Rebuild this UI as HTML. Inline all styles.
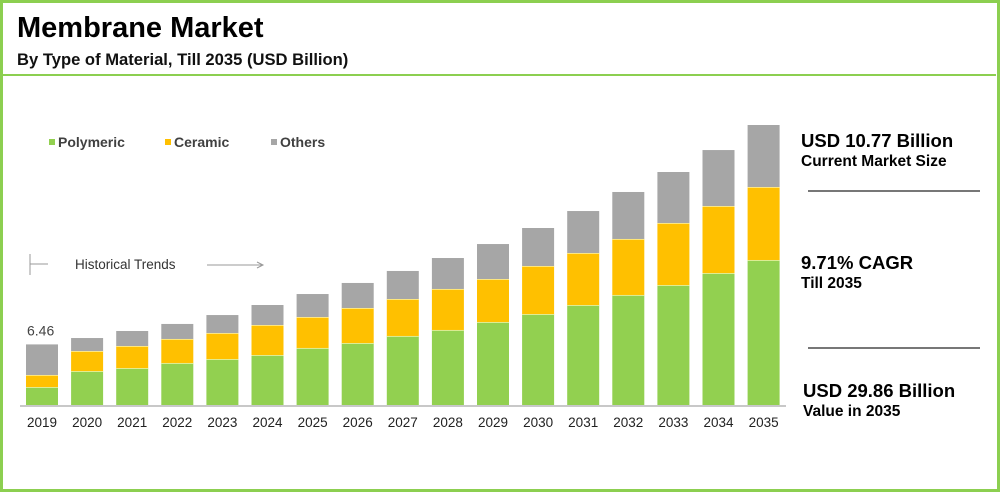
<!DOCTYPE html>
<html><head><meta charset="utf-8"><style>
body{margin:0;width:1000px;height:492px;overflow:hidden;background:#fff;font-family:"Liberation Sans",Arial,sans-serif;}
#frame{position:absolute;left:0;top:0;width:994px;height:486px;border:3px solid #8ccf50;border-right-width:4px;}
.t{position:absolute;white-space:nowrap;}
</style></head><body>
<div id="frame"></div>
<div class="t" style="left:17px;top:12px;font-size:29px;font-weight:bold;color:#000;">Membrane Market</div>
<div class="t" style="left:17px;top:50px;font-size:16.6px;font-weight:bold;color:#111;">By Type of Material, Till 2035 (USD Billion)</div>
<div style="position:absolute;left:3px;top:74px;width:993px;height:2px;background:#8ccf50;"></div>
<svg id="chart" width="1000" height="492" style="position:absolute;left:0;top:0">
</svg>
<div class="t" style="left:801px;top:130px;font-size:18.5px;font-weight:bold;">USD 10.77 Billion</div>
<div class="t" style="left:801px;top:153px;font-size:15.5px;font-weight:bold;">Current Market Size</div>
<div style="position:absolute;left:808px;top:190px;width:172px;height:2px;background:#777;"></div>
<div class="t" style="left:801px;top:252px;font-size:18.5px;font-weight:bold;">9.71% CAGR</div>
<div class="t" style="left:801px;top:275px;font-size:15.5px;font-weight:bold;">Till 2035</div>
<div style="position:absolute;left:808px;top:347px;width:172px;height:2px;background:#777;"></div>
<div class="t" style="left:803px;top:380px;font-size:18.5px;font-weight:bold;">USD 29.86 Billion</div>
<div class="t" style="left:803px;top:403px;font-size:15.5px;font-weight:bold;">Value in 2035</div>
<script>
const years=["2019","2020","2021","2022","2023","2024","2025","2026","2027","2028","2029","2030","2031","2032","2033","2034","2035"];
const polymeric=[1.92,3.62,3.94,4.48,4.90,5.33,6.08,6.61,7.36,8.00,8.85,9.70,10.66,11.73,12.79,14.07,15.46];
const ceramic=[1.28,2.13,2.35,2.56,2.77,3.20,3.30,3.73,3.94,4.37,4.58,5.12,5.54,5.97,6.61,7.14,7.78];
const others=[3.26,1.39,1.60,1.60,1.92,2.13,2.45,2.67,2.99,3.30,3.73,4.05,4.48,5.01,5.44,5.97,6.61];
const seriesNames=["Polymeric","Ceramic","Others"];
const colors=["#92d050","#ffc000","#a6a6a6"];
const firstLabel="6.46";
const NS="http://www.w3.org/2000/svg";
const svg=document.getElementById("chart");
const base=405, pxPer=9.38, x0=42, step=45.1, bw=32;
const xc=i=>x0+i*step;
const yv=v=>base-v*pxPer;
function mk(tag,attrs){const e=document.createElementNS(NS,tag);for(const k in attrs)e.setAttribute(k,attrs[k]);svg.appendChild(e);return e;}
const data=[polymeric,ceramic,others];
years.forEach((yr,i)=>{
  let cum=0;
  data.forEach((s,si)=>{
    const r=mk("rect",{x:xc(i)-bw/2,y:yv(cum+s[i]),width:bw,height:s[i]*pxPer,fill:colors[si]});
    
    
    if(si<2){const l=mk("rect",{x:xc(i)-bw/2,y:yv(cum+s[i])-0.5,width:bw,height:1.2,fill:"#fff8b0"});
      
      }
    cum+=s[i];
  });
  const t=mk("text",{x:xc(i),y:427,"text-anchor":"middle","font-size":"13.5",fill:"#222","font-family":"Liberation Sans, sans-serif"});
  t.textContent=yr;
  
  
});
const ax=mk("rect",{x:20,y:base,width:766,height:2,fill:"#c8c8c8"});


const tot0=polymeric[0]+ceramic[0]+others[0];
const fl=mk("text",{x:xc(0)-15,y:yv(tot0)-9,"font-size":"14",fill:"#444","font-family":"Liberation Sans, sans-serif"});
fl.textContent=firstLabel;


const lx=[49,165,271];
seriesNames.forEach((n,i)=>{
  const r=mk("rect",{x:lx[i],y:139,width:6,height:6,fill:colors[i]});
  
  
  const t=mk("text",{x:lx[i]+9,y:147,"font-size":"14","font-weight":"bold",fill:"#404040","font-family":"Liberation Sans, sans-serif"});
  t.textContent=n;
  
  
});
const h1=mk("line",{x1:30,y1:254,x2:30,y2:275,stroke:"#999","stroke-width":1});


const h2=mk("line",{x1:30,y1:264,x2:48,y2:264,stroke:"#999","stroke-width":1});


const ht=mk("text",{x:75,y:269,"font-size":"13.5",fill:"#333","font-family":"Liberation Sans, sans-serif"});
ht.textContent="Historical Trends";


const ha=mk("line",{x1:207,y1:265,x2:262,y2:265,stroke:"#999","stroke-width":1});


const hp=mk("path",{d:"M257,262 L263,265 L257,268",fill:"none",stroke:"#999","stroke-width":1});


</script>
</body></html>
